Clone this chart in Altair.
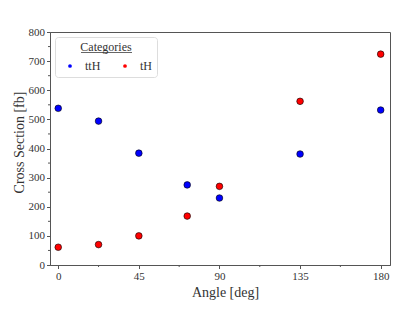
import altair as alt
import pandas as pd

angles = [0, 22.5, 45, 72, 90, 135, 180]
tth_values = [538, 494, 384, 275, 230, 381, 532]
th_values = [61, 70, 100, 168, 270, 562, 724]
categories = ["ttH", "tH"]
colors = ["#0000ff", "#ff0000"]
x_ticks = [0, 45, 90, 135, 180]
x_minor = [22.5, 67.5, 112.5, 157.5]
y_ticks = [0, 100, 200, 300, 400, 500, 600, 700, 800]
y_minor = [50, 150, 250, 350, 450, 550, 650, 750]

rows = []
for a, v in zip(angles, tth_values):
    rows.append({"Angle": a, "Value": v, "Category": "ttH"})
for a, v in zip(angles, th_values):
    rows.append({"Angle": a, "Value": v, "Category": "tH"})
df = pd.DataFrame(rows)

W, H = 340, 233
FONT = "Liberation Serif"
TXT = "#333333"

xscale = alt.Scale(domain=[-4.6, 185.2], nice=False, zero=False)
yscale = alt.Scale(domain=[0, 800], nice=False)

xaxis = alt.Axis(values=x_ticks, grid=False, tickSize=3.5, labelPadding=2,
                 titlePadding=4, titleX=175, labelFlush=False,
                 labelOverlap=False, labelFont=FONT, labelFontSize=11,
                 titleFont=FONT)
yaxis = alt.Axis(values=y_ticks, grid=False, tickSize=3.5, labelPadding=2,
                 titlePadding=2, titleY=110, labelFlush=False,
                 labelOverlap=False, labelFont=FONT, labelFontSize=11,
                 titleFont=FONT)

points = alt.Chart(df).mark_point(
    filled=True, size=44, stroke="black", strokeWidth=0.6, opacity=1
).encode(
    x=alt.X("Angle:Q", scale=xscale, title="Angle [deg]", axis=xaxis),
    y=alt.Y("Value:Q", scale=yscale, title="Cross Section [fb]", axis=yaxis),
    color=alt.Color("Category:N",
                    scale=alt.Scale(domain=categories, range=colors),
                    legend=alt.Legend(
                        title="Categories", orient="top-left", offset=5,
                        direction="horizontal", columns=2,
                        strokeColor="#dddddd", cornerRadius=3,
                        padding=5, symbolOffset=4,
                        symbolSize=14, symbolStrokeWidth=0, symbolType="circle",
                        titleAnchor="middle", titleFontSize=12, titleFontWeight="normal",
                        titleFont=FONT, titleColor=TXT, titlePadding=6,
                        labelFont=FONT, labelFontSize=12, labelColor=TXT,
                        labelOffset=9, columnPadding=14)),
)

xminor_df = pd.DataFrame({"m": x_minor})
yminor_df = pd.DataFrame({"m": y_minor})

xminor = alt.Chart(xminor_df).mark_rule(color="#555555", strokeWidth=1).encode(
    x=alt.X("m:Q", scale=xscale, title="Angle [deg]", axis=xaxis),
    y=alt.value(H), y2=alt.value(H + 2)
)
yminor = alt.Chart(yminor_df).mark_rule(color="#555555", strokeWidth=1).encode(
    y=alt.Y("m:Q", scale=yscale, title="Cross Section [fb]", axis=yaxis),
    x=alt.value(0), x2=alt.value(-2)
)

underline = alt.Chart(pd.DataFrame({"u": [0]})).mark_rule(
    color="#666666", strokeWidth=1
).encode(x=alt.value(31), x2=alt.value(82), y=alt.value(20.5))

chart = alt.layer(points, xminor, yminor, underline).properties(
    width=W, height=H,
    padding={"left": 42, "top": 24, "right": 17, "bottom": 39},
    autosize=alt.AutoSizeParams(type="none"),
).configure_view(
    stroke="#555555", strokeWidth=1
).configure_axis(
    domainColor="#555555", tickColor="#555555",
    labelFont=FONT, labelFontSize=11, labelColor=TXT,
    titleFont=FONT, titleFontSize=14, titleFontWeight="normal", titleColor=TXT,
)

chart.save("out.html", embed_options={"renderer": "svg", "actions": False})
